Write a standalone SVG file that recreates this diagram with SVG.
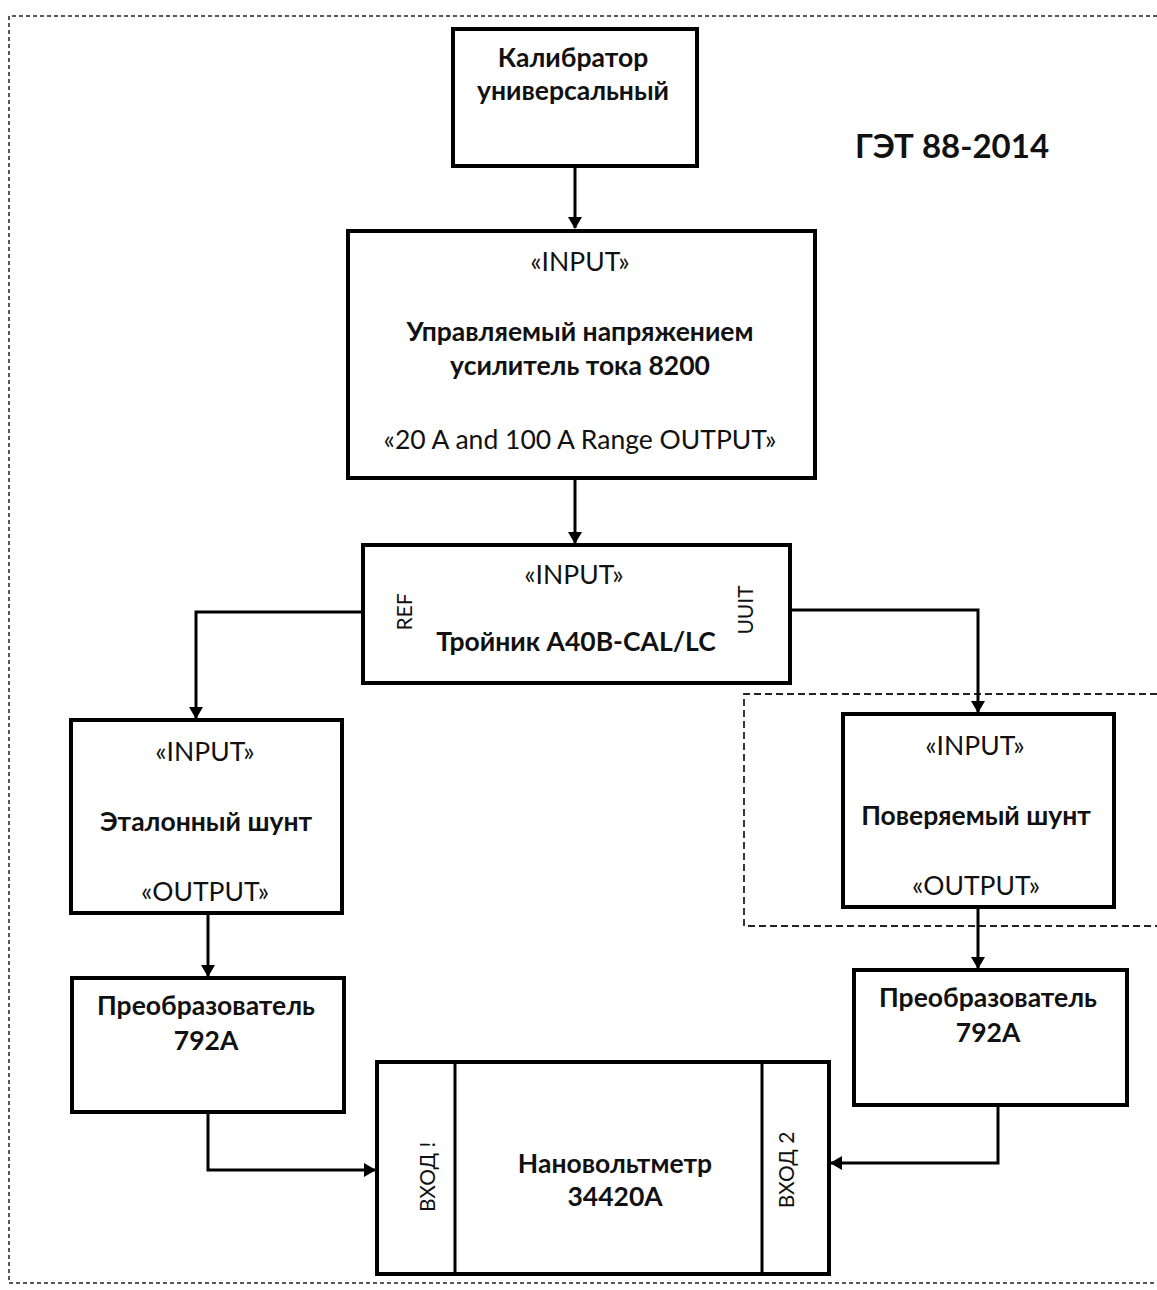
<svg xmlns="http://www.w3.org/2000/svg" width="1157" height="1290" viewBox="0 0 1157 1290">
<defs>
<marker id="arr" markerWidth="12" markerHeight="14" refX="11" refY="7" orient="auto" markerUnits="userSpaceOnUse">
<path d="M0,0 L12,7 L0,14 Z" fill="#000"/>
</marker>
<style>
.box{fill:#fff;stroke:#000;stroke-width:4}
.con{fill:none;stroke:#000;stroke-width:3}
.b{font-family:Lato,"Liberation Sans",sans-serif;font-weight:bold;font-size:26.5px;fill:#111;text-anchor:middle}
.r{font-family:Lato,"Liberation Sans",sans-serif;font-size:26.5px;fill:#111;text-anchor:middle}
.s{font-family:Lato,"Liberation Sans",sans-serif;font-size:21px;fill:#111;text-anchor:middle}
.dash{fill:none;stroke:#222;stroke-width:1.5;stroke-dasharray:4 3}
.dash2{fill:none;stroke:#222;stroke-width:1.8;stroke-dasharray:7 4}
</style>
</defs>
<rect width="1157" height="1290" fill="#fff"/>
<path class="dash" d="M1157,16 H9 V1283 H1157"/>
<path class="dash2" d="M1157,694 H744 V926 H1157"/>
<text x="952" y="158" font-family="Lato,'Liberation Sans',sans-serif" font-weight="bold" font-size="33" fill="#111" text-anchor="middle">ГЭТ 88-2014</text>
<g id="connectors">
<path class="con" d="M575,166 V228" marker-end="url(#arr)"/>
<path class="con" d="M575,478 V543" marker-end="url(#arr)"/>
<path class="con" d="M363,612 H196 V718" marker-end="url(#arr)"/>
<path class="con" d="M790,610 H978 V712" marker-end="url(#arr)"/>
<path class="con" d="M208,913 V976" marker-end="url(#arr)"/>
<path class="con" d="M978,907 V968" marker-end="url(#arr)"/>
<path class="con" d="M208,1112 V1170 H375" marker-end="url(#arr)"/>
<path class="con" d="M998,1105 V1163 H831" marker-end="url(#arr)"/>
</g>
<g id="calibrator">
<rect class="box" x="453" y="29" width="244" height="137"/>
<text class="b" x="573" y="67">Калибратор</text>
<text class="b" x="573" y="100">универсальный</text>
</g>
<g id="amplifier">
<rect class="box" x="348" y="231" width="467" height="247"/>
<text class="r" x="580" y="271">«INPUT»</text>
<text class="b" x="580" y="341">Управляемый напряжением</text>
<text class="b" x="580" y="375">усилитель тока 8200</text>
<text class="r" x="580" y="449">«20 A and 100 A Range OUTPUT»</text>
</g>
<g id="tee">
<rect class="box" x="363" y="545" width="427" height="138"/>
<text class="r" x="574" y="584">«INPUT»</text>
<text class="b" x="576" y="651">Тройник А40В-CAL/LC</text>
<text class="s" transform="translate(412,612) rotate(-90)">REF</text>
<text class="s" transform="translate(753,610) rotate(-90)">UUIT</text>
</g>
<g id="ref-shunt">
<rect class="box" x="71" y="720" width="271" height="193"/>
<text class="r" x="205" y="761">«INPUT»</text>
<text class="b" x="206" y="831">Эталонный шунт</text>
<text class="r" x="205" y="901">«OUTPUT»</text>
</g>
<g id="test-shunt">
<rect class="box" x="843" y="714" width="271" height="193"/>
<text class="r" x="975" y="755">«INPUT»</text>
<text class="b" x="976" y="825">Поверяемый шунт</text>
<text class="r" x="976" y="895">«OUTPUT»</text>
</g>
<g id="conv1">
<rect class="box" x="72" y="978" width="272" height="134"/>
<text class="b" x="206" y="1015">Преобразователь</text>
<text class="b" x="206" y="1050">792А</text>
</g>
<g id="conv2">
<rect class="box" x="854" y="970" width="273" height="135"/>
<text class="b" x="988" y="1007">Преобразователь</text>
<text class="b" x="988" y="1042">792А</text>
</g>
<g id="nanovoltmeter">
<rect class="box" x="377" y="1062" width="452" height="212"/>
<line x1="455" y1="1062" x2="455" y2="1274" stroke="#000" stroke-width="3"/>
<line x1="762" y1="1062" x2="762" y2="1274" stroke="#000" stroke-width="3"/>
<text class="b" x="615" y="1173">Нановольтметр</text>
<text class="b" x="615" y="1206">34420А</text>
<text class="s" transform="translate(435,1177) rotate(-90)">ВХОД !</text>
<text class="s" transform="translate(794,1170) rotate(-90)">ВХОД 2</text>
</g>
</svg>
